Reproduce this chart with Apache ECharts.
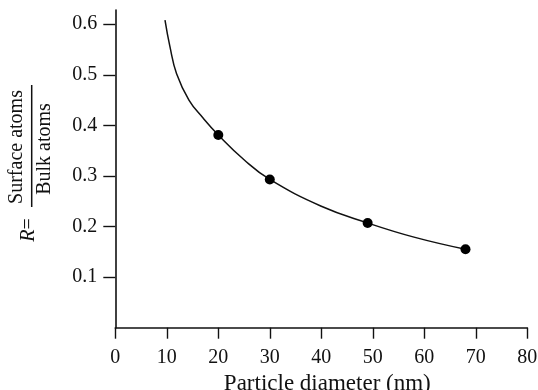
<!DOCTYPE html>
<html>
<head>
<meta charset="utf-8">
<script src="https://cdn.jsdelivr.net/npm/echarts@6/dist/echarts.min.js"></script>
<style>
  html, body { margin: 0; padding: 0; background: #fff; }
  #chart { width: 538px; height: 390px; }
</style>
</head>
<body>
<div id="chart"></div>
<script>
// Measured particles: diameter (nm) and surface/bulk atom ratio
const measuredDiameter = [20, 30, 49, 68];
const measuredRatio = [0.381, 0.293, 0.207, 0.155];

// Trend curve through the measurements
const curveDiameter = [9.65, 10.6, 11.9, 14.3, 17.0, 20, 25, 30, 40, 49, 58, 68];
const curveRatio = [0.608, 0.556, 0.502, 0.450, 0.415, 0.381, 0.332, 0.293, 0.240, 0.207, 0.179, 0.155];

const yTickValues = [0.1, 0.2, 0.3, 0.4, 0.5, 0.6];
const xAxisTitle = 'Particle diameter (nm)';
const ratioNumerator = 'Surface atoms';
const ratioDenominator = 'Bulk atoms';

const FONT = 'Liberation Serif';
const INK = '#111';

const chart = echarts.init(document.getElementById('chart'), null, { renderer: 'canvas' });

const curveData = curveDiameter.map((d, i) => [d, curveRatio[i]]);
const pointData = measuredDiameter.map((d, i) => [d, measuredRatio[i]]);

const tickText = { fontFamily: FONT, fontSize: 20, color: INK };

chart.setOption({
  animation: false,
  backgroundColor: '#fff',
  textStyle: { fontFamily: FONT },
  grid: {
    left: 115.3, right: 10.7, top: 10, bottom: 62.3,
    containLabel: false,
    outerBoundsMode: 'none'
  },
  xAxis: {
    type: 'value',
    min: 0, max: 80, interval: 10,
    name: xAxisTitle,
    nameLocation: 'middle',
    nameGap: 42,
    nameTextStyle: { fontFamily: FONT, fontSize: 23, color: INK, padding: [0, 0, 0, 12] },
    axisLine: { show: true, lineStyle: { color: INK, width: 1.6 } },
    axisTick: { show: true, length: 11, lineStyle: { color: INK, width: 1.4 } },
    axisLabel: Object.assign({ margin: 20 }, tickText),
    splitLine: { show: false }
  },
  yAxis: {
    type: 'value',
    min: 0, max: 0.628,
    axisLine: { show: true, lineStyle: { color: INK, width: 1.6 } },
    axisTick: { show: true, length: 12, customValues: yTickValues, lineStyle: { color: INK, width: 1.4 } },
    axisLabel: Object.assign({
      margin: 18,
      customValues: yTickValues,
      formatter: v => v.toFixed(1)
    }, tickText),
    splitLine: { show: false }
  },
  graphic: [
    {
      type: 'text', x: 17, y: 147, rotation: Math.PI / 2,
      style: { text: ratioNumerator, x: 0, y: 0, align: 'center', verticalAlign: 'middle',
               font: '20px ' + FONT, fill: INK }
    },
    {
      type: 'line',
      shape: { x1: 31.7, y1: 85, x2: 31.7, y2: 207 },
      style: { stroke: INK, lineWidth: 1.5 }
    },
    {
      type: 'text', x: 45, y: 149, rotation: Math.PI / 2,
      style: { text: ratioDenominator, x: 0, y: 0, align: 'center', verticalAlign: 'middle',
               font: '20px ' + FONT, fill: INK }
    },
    {
      type: 'text', x: 29, y: 230, rotation: Math.PI / 2,
      style: {
        text: '{i|R}=', x: 0, y: 0, align: 'center', verticalAlign: 'middle',
        font: '20px ' + FONT, fill: INK,
        rich: { i: { fontStyle: 'italic', fontFamily: FONT, fontSize: 20, fill: INK } }
      }
    }
  ],
  series: [
    {
      type: 'line',
      data: curveData,
      smooth: 0.45,
      showSymbol: false,
      symbol: 'none',
      lineStyle: { color: INK, width: 1.5 },
      z: 2
    },
    {
      type: 'scatter',
      data: pointData,
      symbol: 'circle',
      symbolSize: 10,
      itemStyle: { color: '#000', opacity: 1 },
      z: 3
    }
  ]
});
</script>
</body>
</html>
